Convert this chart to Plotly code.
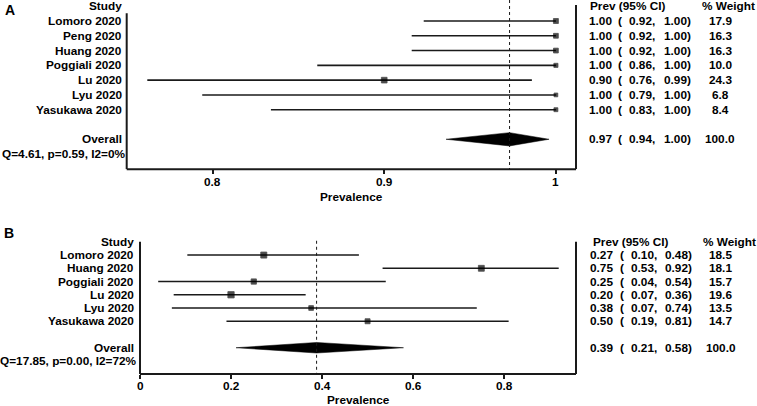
import plotly.graph_objects as go

W, H = 757, 406
FONT = "Liberation Sans, Arial, Helvetica, sans-serif"
FS = 11.8
INK = "#1a1a1a"

# ---------------- data: panel A ----------------
studies_a = ["Lomoro 2020", "Peng 2020", "Huang 2020", "Poggiali 2020",
             "Lu 2020", "Lyu 2020", "Yasukawa 2020"]
prev_a = [1.00, 1.00, 1.00, 1.00, 0.90, 1.00, 1.00]
lo_a = [0.923, 0.916, 0.916, 0.861, 0.762, 0.794, 0.834]
hi_a = [1.00, 1.00, 1.00, 1.00, 0.986, 1.00, 1.00]
weight_a = [17.9, 16.3, 16.3, 10.0, 24.3, 6.8, 8.4]
overall_a = [0.973, 0.936, 0.996]          # estimate, lower, upper
het_a = "Q=4.61, p=0.59, I2=0%"
ticks_a = [0.8, 0.9, 1]
ticklabels_a = ["0.8", "0.9", "1"]

# ---------------- data: panel B ----------------
studies_b = ["Lomoro 2020", "Huang 2020", "Poggiali 2020", "Lu 2020",
             "Lyu 2020", "Yasukawa 2020"]
prev_b = [0.272, 0.75, 0.25, 0.20, 0.376, 0.50]
lo_b = [0.104, 0.533, 0.04, 0.074, 0.07, 0.19]
hi_b = [0.481, 0.92, 0.54, 0.364, 0.74, 0.81]
weight_b = [18.5, 18.1, 15.7, 19.6, 13.5, 14.7]
overall_b = [0.388, 0.211, 0.579]
het_b = "Q=17.85, p=0.00, I2=72%"
ticks_b = [0, 0.2, 0.4, 0.6, 0.8]
ticklabels_b = ["0", "0.2", "0.4", "0.6", "0.8"]

# ---------------- layout constants (pixels) ----------------
panels = [
    dict(letter="A", ax="x", ay="y", studies=studies_a, prev=prev_a, lo=lo_a, hi=hi_a,
         w=weight_a, overall=overall_a, het=het_a, ticks=ticks_a, ticklabels=ticklabels_a,
         xpx=(126.7, 576.0), ypx=(0.0, 169.3), xrange=[0.75, 1.0117], yrange=[11.03, -0.42],
         left_top=0.48, right_top=-0.08, dot_top=-0.42, dh=0.45,
         lab_x=121.7, het_x=125.0, letter_xy=(4, 10), title_y=197.0, tick_y=182.0,
         col_est=589.0, col_par=617.7, col_lo=629.3, col_hi=664.0, col_w=720.0,
         head_prev=590.0, head_w=702.0, size=lambda v: 3.0 + 0.11 * v),
    dict(letter="B", ax="x2", ay="y2", studies=studies_b, prev=prev_b, lo=lo_b, hi=hi_b,
         w=weight_b, overall=overall_b, het=het_b, ticks=ticks_b, ticklabels=ticklabels_b,
         xpx=(140.0, 576.0), ypx=(236.0, 374.0), xrange=[0.0, 0.958], yrange=[9.985, -0.44],
         left_top=0.0, right_top=0.0, dot_top=-0.08, dh=0.40,
         lab_x=133.5, het_x=136.7, letter_xy=(3, 233), title_y=400.0, tick_y=385.5,
         col_est=590.0, col_par=620.0, col_lo=631.0, col_hi=665.0, col_w=720.5,
         head_prev=593.0, head_w=703.0, size=lambda v: 1.2 + 0.26 * v),
]

fig = go.Figure()
annotations = []
shapes = []
bold = dict(family=FONT, size=FS, color="black", weight="bold")


def ann(text, x, y, yref, xanchor, font=None):
    annotations.append(dict(text=text, x=x / W, xref="paper", y=y, yref=yref,
                            xanchor=xanchor, yanchor="middle", showarrow=False,
                            borderpad=0, borderwidth=0, font=font or bold))


layout_axes = {}
for p in panels:
    n = len(p["studies"])
    rows = list(range(1, n + 1))
    r_over = n + 2
    r_het = n + 3
    ybot = p["yrange"][0]

    # CI lines
    xs, ys = [], []
    for lo, hi, r in zip(p["lo"], p["hi"], rows):
        xs += [lo, hi, None]
        ys += [r, r, None]
    fig.add_trace(go.Scatter(x=xs, y=ys, mode="lines", line=dict(color=INK, width=1.6),
                             xaxis=p["ax"], yaxis=p["ay"], showlegend=False, hoverinfo="skip"))
    # squares
    fig.add_trace(go.Scatter(x=p["prev"], y=rows, mode="markers",
                             marker=dict(symbol="square", color="black",
                                         size=[p["size"](v) for v in p["w"]],
                                         line=dict(width=0.8, color="black")),
                             xaxis=p["ax"], yaxis=p["ay"], showlegend=False, hoverinfo="skip"))
    # diamond
    est, olo, ohi = p["overall"]
    fig.add_trace(go.Scatter(x=[olo, est, ohi, est, olo],
                             y=[r_over, r_over - p["dh"], r_over, r_over + p["dh"], r_over],
                             mode="lines", fill="toself", fillcolor="black",
                             line=dict(color="black", width=0.5),
                             xaxis=p["ax"], yaxis=p["ay"], showlegend=False, hoverinfo="skip"))

    # axes
    xd = [p["xpx"][0] / W, p["xpx"][1] / W]
    yd = [1 - p["ypx"][1] / H, 1 - p["ypx"][0] / H]
    xkey = "xaxis" if p["ax"] == "x" else "xaxis2"
    ykey = "yaxis" if p["ay"] == "y" else "yaxis2"
    layout_axes[xkey] = dict(domain=xd, range=p["xrange"], anchor=p["ay"], showgrid=False,
                             zeroline=False, showline=False, tickvals=p["ticks"],
                             showticklabels=False,
                             ticks="outside", ticklen=4, tickwidth=1.5, tickcolor=INK,
                             fixedrange=True)
    layout_axes[ykey] = dict(domain=yd, range=p["yrange"], anchor=p["ax"], showgrid=False,
                             zeroline=False, showline=False, showticklabels=False, ticks="",
                             fixedrange=True)

    # tick labels placed on the library's x scale
    for tv, tl in zip(p["ticks"], p["ticklabels"]):
        annotations.append(dict(text=tl, x=tv, xref=p["ax"], y=1 - p["tick_y"] / H, yref="paper",
                                xanchor="center", yanchor="middle", showarrow=False,
                                borderpad=0, font=bold))

    xdom = p["ax"] + " domain"
    ydom = p["ay"] + " domain"
    line = dict(color=INK, width=2)
    shapes.append(dict(type="line", xref=xdom, yref=ydom, x0=0, x1=1, y0=0, y1=0, line=line))
    shapes.append(dict(type="line", xref=xdom, yref=p["ay"], x0=0, x1=0,
                       y0=p["left_top"], y1=ybot, line=line))
    shapes.append(dict(type="line", xref=xdom, yref=p["ay"], x0=1, x1=1,
                       y0=p["right_top"], y1=ybot, line=line))
    shapes.append(dict(type="line", xref=p["ax"], yref=p["ay"], x0=est, x1=est,
                       y0=p["dot_top"], y1=ybot, line=dict(color=INK, width=1, dash="dot")))

    # left labels
    ann("Study", p["lab_x"], 0, p["ay"], "right")
    for s, r in zip(p["studies"], rows):
        ann(s, p["lab_x"], r, p["ay"], "right")
    ann("Overall", p["lab_x"], r_over, p["ay"], "right")
    ann(p["het"], p["het_x"], r_het, p["ay"], "right")

    # right table
    ann("Prev (95% CI)", p["head_prev"], 0, p["ay"], "left")
    ann("% Weight", p["head_w"], 0, p["ay"], "left")
    table = list(zip(p["prev"], p["lo"], p["hi"], p["w"], rows))
    table.append((est, olo, ohi, 100.0, r_over))
    for e, lo, hi, w, r in table:
        ann(f"{e:.2f}", p["col_est"], r, p["ay"], "left")
        ann("(", p["col_par"], r, p["ay"], "left")
        ann(f"{lo:.2f},", p["col_lo"], r, p["ay"], "left")
        ann(f"{hi:.2f})", p["col_hi"], r, p["ay"], "left")
        ann(f"{w:.1f}", p["col_w"], r, p["ay"], "center")

    # panel letter and axis title
    lx, ly = p["letter_xy"]
    annotations.append(dict(text=p["letter"], x=lx / W, xref="paper", y=1 - ly / H, yref="paper",
                            xanchor="left", yanchor="middle", showarrow=False, borderpad=0,
                            font=dict(family=FONT, size=14, color="black", weight="bold")))
    annotations.append(dict(text="Prevalence", x=(p["xpx"][0] + p["xpx"][1]) / 2 / W, xref="paper",
                            y=1 - p["title_y"] / H, yref="paper", xanchor="center", yanchor="middle",
                            showarrow=False, borderpad=0, font=bold))

fig.update_layout(width=W, height=H, margin=dict(l=0, r=0, t=0, b=0),
                  paper_bgcolor="white", plot_bgcolor="rgba(0,0,0,0)",
                  showlegend=False, annotations=annotations, shapes=shapes, **layout_axes)

fig.write_html("out.html", config={"displayModeBar": False},
               post_script="document.body.style.margin='0';document.body.style.overflow='hidden';")
